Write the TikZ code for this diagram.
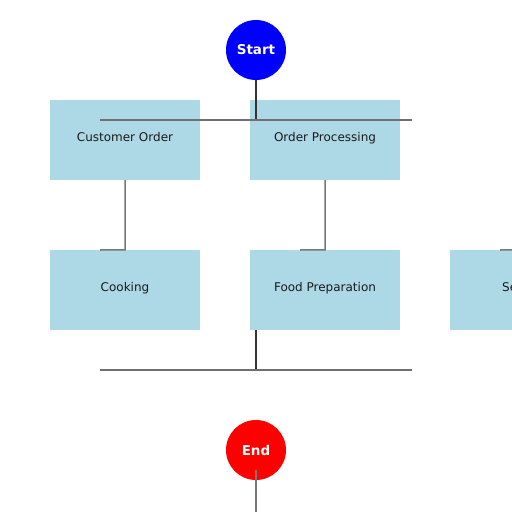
\documentclass[tikz,border=0pt]{standalone}
\usepackage{fontspec}
\setmainfont{DejaVu Sans}
\begin{document}
\begin{tikzpicture}[x=1pt,y=-1pt,
  procbox/.style={rectangle,fill=lightbluec,minimum width=150pt,minimum height=80pt,inner sep=0pt,text=textc,font=\fontsize{12}{14}\selectfont},
  termnode/.style={circle,minimum size=60pt,inner sep=0pt,text=white,font=\bfseries\fontsize{13.5}{16}\selectfont},
  busline/.style={draw=busc,line width=1.5pt},
  darkline/.style={draw=darkc,line width=1.5pt},
  greyline/.style={draw=greyc,line width=1.5pt}]
\definecolor{lightbluec}{HTML}{ADD8E6}
\definecolor{textc}{HTML}{1A1A1A}
\definecolor{busc}{HTML}{707070}
\definecolor{darkc}{HTML}{333333}
\definecolor{greyc}{HTML}{777777}
\useasboundingbox (0,0) rectangle (512,512);
\clip (0,0) rectangle (512,512);
\fill[white] (0,0) rectangle (512,512);
\node[termnode,fill={rgb,255:red,0;green,0;blue,255}] (start) at (256,50) {Start};
\node[procbox] (co) at (125,140) {\raisebox{6pt}{Customer Order}};
\node[procbox] (op) at (325,140) {\raisebox{6pt}{Order Processing}};
\node[procbox] (ck) at (125,290) {\raisebox{6pt}{Cooking}};
\node[procbox] (fp) at (325,290) {\raisebox{6pt}{Food Preparation}};
\node[procbox] (sv) at (525,290) {\raisebox{6pt}{Serving}};
\node[termnode,fill={rgb,255:red,255;green,0;blue,0}] (end) at (256,450) {End};
\coordinate (j1) at (256,120);
\coordinate (b1l) at (100,120);
\coordinate (b1r) at (412,120);
\coordinate (j2) at (256,370);
\coordinate (b2l) at (100,370);
\coordinate (b2r) at (412,370);
\coordinate (ckl) at (100,250);
\coordinate (fpl) at (300,250);
\coordinate (svl) at (500,250);
\coordinate (endin) at (256,470);
\coordinate (endout) at (256,512);
\draw[darkline] (start.south) -- (j1);
\draw[busline] (b1l) -- (b1r);
\draw[greyline] (co.south) -- (ck.north) -- (ckl);
\draw[greyline] (op.south) -- (fp.north) -- (fpl);
\draw[greyline] (svl) -- (sv.north);
\draw[darkline] (fp.south west -| j2) -- (j2);
\draw[busline] (b2l) -- (b2r);
\draw[greyline] (endin) -- (endout);
\end{tikzpicture}
\end{document}
